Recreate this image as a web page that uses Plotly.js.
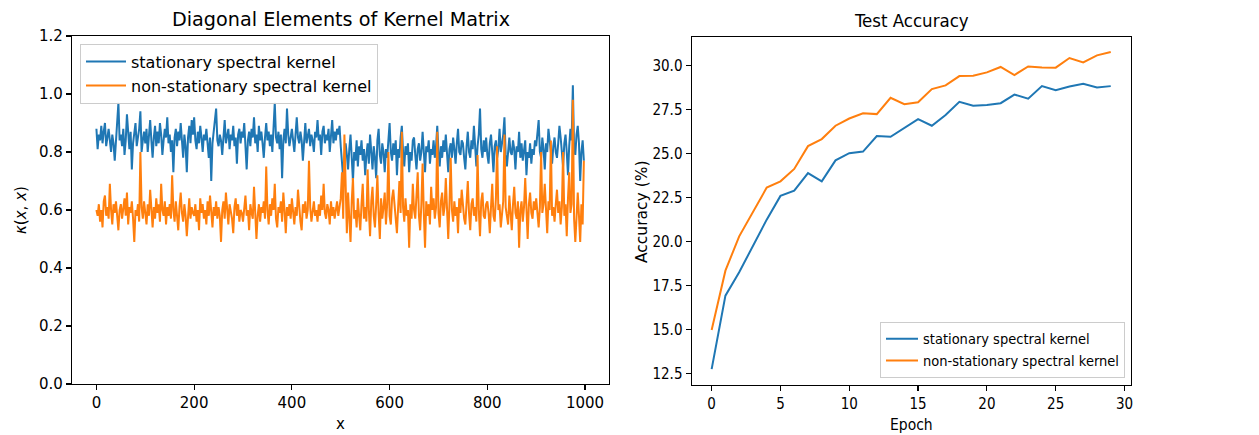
<!DOCTYPE html>
<html>
<head>
<meta charset="utf-8">
<script src="https://cdn.plot.ly/plotly-3.0.1.min.js"></script>
<style>html,body{margin:0;padding:0;background:#fff;}#chart{width:1259px;height:435px;}</style>
</head>
<body>
<div id="chart"></div>
<script>
// Left panel: diagonal elements, read every 2.5 units of x (0..997.5)
const kernelStep = 2.5;
const stationaryDiag = [
0.88,0.81,0.86,0.84,0.89,0.83,0.87,0.90,0.82,0.85,0.88,0.84,0.80,0.86,0.83,0.77,0.85,0.89,0.97,0.84,
0.86,0.82,0.88,0.79,0.84,0.93,0.85,0.81,0.87,0.74,0.83,0.86,0.90,0.82,0.85,0.88,0.94,0.80,0.84,0.87,
0.83,0.88,0.80,0.86,0.91,0.84,0.78,0.85,0.89,0.82,0.87,0.83,0.90,0.86,0.79,0.84,0.88,0.85,0.92,0.83,
0.86,0.80,0.84,0.73,0.85,0.88,0.82,0.87,0.84,0.90,0.83,0.78,0.86,0.82,0.73,0.85,0.89,0.83,0.91,0.86,
0.92,0.84,0.81,0.87,0.83,0.89,0.85,0.80,0.86,0.84,0.88,0.82,0.78,0.85,0.70,0.83,0.87,0.89,0.95,0.84,
0.82,0.86,0.84,0.79,0.87,0.91,0.83,0.85,0.88,0.81,0.86,0.84,0.89,0.82,0.85,0.76,0.86,0.88,0.83,0.87,
0.85,0.90,0.83,0.74,0.84,0.87,0.82,0.88,0.85,0.92,0.83,0.86,0.80,0.89,0.84,0.87,0.83,0.78,0.85,0.90,
0.84,0.87,0.82,0.86,0.80,0.88,0.97,0.85,0.83,0.87,0.81,0.86,0.71,0.84,0.88,0.83,0.95,0.86,0.82,0.85,
0.88,0.84,0.80,0.86,0.92,0.85,0.83,0.87,0.84,0.77,0.86,0.90,0.83,0.85,0.88,0.82,0.86,0.84,0.80,0.87,
0.85,0.91,0.84,0.86,0.79,0.87,0.89,0.83,0.86,0.84,0.88,0.80,0.85,0.91,0.83,0.87,0.84,0.88,0.86,0.89,
0.82,0.76,0.71,0.78,0.83,0.79,0.74,0.81,0.86,0.78,0.70,0.80,0.77,0.84,0.75,0.82,0.79,0.84,0.77,0.81,
0.72,0.79,0.83,0.76,0.86,0.80,0.74,0.82,0.78,0.71,0.84,0.88,0.79,0.76,0.83,0.80,0.73,0.81,0.78,0.84,
0.90,0.80,0.77,0.83,0.79,0.84,0.72,0.81,0.78,0.85,0.89,0.80,0.75,0.82,0.79,0.83,0.73,0.80,0.77,0.84,
0.85,0.79,0.74,0.81,0.83,0.77,0.80,0.87,0.78,0.73,0.82,0.80,0.84,0.76,0.81,0.79,0.84,0.78,0.82,0.89,
0.80,0.75,0.82,0.78,0.84,0.80,0.86,0.79,0.73,0.81,0.83,0.78,0.85,0.81,0.76,0.83,0.88,0.80,0.79,0.84,
0.83,0.78,0.74,0.82,0.87,0.80,0.78,0.84,0.81,0.89,0.79,0.75,0.82,0.86,0.95,0.81,0.78,0.84,0.80,0.85,
0.79,0.76,0.83,0.86,0.80,0.73,0.82,0.84,0.78,0.81,0.88,0.80,0.83,0.86,0.92,0.79,0.75,0.82,0.85,0.80,
0.79,0.84,0.81,0.74,0.82,0.80,0.87,0.78,0.83,0.77,0.81,0.84,0.72,0.80,0.78,0.83,0.76,0.81,0.79,0.84,
0.82,0.86,0.91,0.80,0.78,0.85,0.81,0.74,0.83,0.80,0.88,0.84,0.79,0.76,0.82,0.85,0.80,0.78,0.83,0.89,
0.85,0.79,0.75,0.83,0.86,0.80,0.72,0.82,0.88,0.84,1.03,0.81,0.79,0.86,0.89,0.83,0.70,0.80,0.84,0.77
];
const nonStationaryDiag = [
0.60,0.58,0.62,0.56,0.60,0.54,0.63,0.65,0.58,0.61,0.57,0.69,0.60,0.55,0.62,0.59,0.63,0.57,0.53,0.60,
0.62,0.57,0.60,0.64,0.58,0.66,0.55,0.61,0.59,0.63,0.57,0.49,0.60,0.58,0.62,0.56,0.80,0.61,0.57,0.63,
0.59,0.55,0.62,0.58,0.67,0.60,0.54,0.61,0.57,0.64,0.59,0.62,0.56,0.69,0.60,0.58,0.63,0.55,0.61,0.58,
0.62,0.57,0.72,0.60,0.56,0.63,0.58,0.53,0.61,0.66,0.59,0.56,0.62,0.58,0.51,0.60,0.64,0.57,0.61,0.59,
0.58,0.62,0.56,0.60,0.53,0.64,0.59,0.62,0.57,0.60,0.55,0.63,0.58,0.65,0.60,0.54,0.61,0.58,0.63,0.57,
0.61,0.58,0.49,0.60,0.63,0.57,0.66,0.59,0.55,0.62,0.60,0.57,0.52,0.61,0.64,0.58,0.62,0.56,0.60,0.59,
0.56,0.61,0.65,0.58,0.60,0.53,0.62,0.59,0.57,0.68,0.60,0.50,0.58,0.62,0.56,0.61,0.59,0.63,0.57,0.75,
0.60,0.55,0.62,0.58,0.64,0.60,0.69,0.57,0.54,0.61,0.59,0.63,0.56,0.66,0.60,0.52,0.61,0.58,0.62,0.57,
0.64,0.59,0.55,0.61,0.58,0.67,0.60,0.56,0.53,0.62,0.59,0.63,0.57,0.60,0.77,0.61,0.56,0.59,0.63,0.58,
0.60,0.56,0.62,0.58,0.65,0.60,0.69,0.59,0.57,0.62,0.60,0.55,0.63,0.58,0.61,0.57,0.60,0.63,0.58,0.61,
0.64,0.73,0.57,0.86,0.62,0.52,0.66,0.58,0.49,0.63,0.71,0.57,0.60,0.54,0.64,0.58,0.53,0.62,0.69,0.57,
0.61,0.56,0.74,0.60,0.51,0.63,0.68,0.58,0.54,0.62,0.72,0.59,0.50,0.64,0.57,0.61,0.66,0.55,0.62,0.80,
0.58,0.55,0.64,0.67,0.60,0.57,0.52,0.63,0.70,0.59,0.87,0.61,0.56,0.64,0.58,0.60,0.47,0.62,0.57,0.69,
0.60,0.57,0.66,0.73,0.58,0.53,0.62,0.76,0.59,0.47,0.63,0.58,0.62,0.55,0.68,0.60,0.64,0.57,0.61,0.87,
0.59,0.54,0.63,0.66,0.58,0.61,0.71,0.57,0.50,0.62,0.78,0.60,0.56,0.63,0.58,0.61,0.52,0.64,0.59,0.67,
0.60,0.57,0.55,0.63,0.70,0.59,0.53,0.62,0.64,0.58,0.61,0.56,0.79,0.60,0.51,0.63,0.66,0.58,0.57,0.62,
0.63,0.59,0.52,0.61,0.69,0.58,0.56,0.64,0.82,0.60,0.62,0.54,0.59,0.63,0.86,0.61,0.58,0.55,0.65,0.60,
0.53,0.62,0.68,0.59,0.57,0.63,0.47,0.60,0.63,0.56,0.61,0.71,0.58,0.50,0.62,0.66,0.59,0.57,0.63,0.60,
0.64,0.58,0.54,0.61,0.80,0.59,0.62,0.69,0.57,0.52,0.63,0.60,0.84,0.58,0.61,0.56,0.62,0.67,0.59,0.63,
0.55,0.61,0.80,0.58,0.62,0.51,0.64,0.73,0.59,0.62,0.98,0.57,0.49,0.61,0.66,0.58,0.49,0.62,0.55,0.77
];
// Right panel: test accuracy per epoch
const epochs = [0,1,2,3,4,5,6,7,8,9,10,11,12,13,14,15,16,17,18,19,20,21,22,23,24,25,26,27,28,29];
const accStationary = [12.75,16.93,18.26,19.77,21.25,22.6,22.9,23.9,23.43,24.62,25.03,25.12,26.0,25.96,26.48,26.96,26.59,27.2,27.95,27.73,27.77,27.87,28.36,28.13,28.84,28.61,28.82,28.97,28.76,28.84];
const accNonStationary = [14.98,18.35,20.3,21.7,23.07,23.43,24.13,25.43,25.83,26.59,27.0,27.3,27.25,28.18,27.81,27.92,28.67,28.88,29.41,29.43,29.62,29.93,29.47,29.96,29.9,29.89,30.44,30.19,30.59,30.78];
const seriesNames = ['stationary spectral kernel', 'non-stationary spectral kernel'];
const leftTitle = 'Diagonal Elements of Kernel Matrix';
const rightTitle = 'Test Accuracy';

const blue = '#1f77b4', orange = '#ff7f0e';
const kx = stationaryDiag.map((_, i) => i * kernelStep);
const F = 'DejaVu Sans, sans-serif';
const FC = 'DejaVu Sans Condensed, DejaVu Sans, sans-serif';

const traces = [
  {x: kx, y: stationaryDiag, type: 'scatter', mode: 'lines', name: seriesNames[0], line: {color: blue, width: 2}, xaxis: 'x', yaxis: 'y', legend: 'legend'},
  {x: kx, y: nonStationaryDiag, type: 'scatter', mode: 'lines', name: seriesNames[1], line: {color: orange, width: 2}, xaxis: 'x', yaxis: 'y', legend: 'legend'},
  {x: epochs, y: accStationary, type: 'scatter', mode: 'lines', name: seriesNames[0], line: {color: blue, width: 2}, xaxis: 'x2', yaxis: 'y2', legend: 'legend2'},
  {x: epochs, y: accNonStationary, type: 'scatter', mode: 'lines', name: seriesNames[1], line: {color: orange, width: 2}, xaxis: 'x2', yaxis: 'y2', legend: 'legend2'}
];

const W = 1259, H = 435;
const ax = (extra) => Object.assign({
  showline: true, mirror: true, linecolor: '#000', linewidth: 1.2,
  ticks: 'outside', ticklen: 5, tickwidth: 1.2, tickcolor: '#000',
  showgrid: false, zeroline: false, fixedrange: true
}, extra);
const yDom = [51 / H, 399 / H];

const layout = {
  width: W, height: H,
  margin: {l: 0, r: 0, t: 0, b: 0},
  paper_bgcolor: '#fff', plot_bgcolor: '#fff',
  font: {family: F, size: 15, color: '#000'},
  showlegend: true,
  xaxis: ax({domain: [72 / W, 609 / W], range: [-49.95, 1048.95], tickvals: [0, 200, 400, 600, 800, 1000], tickfont: {family: F, size: 15}, anchor: 'y'}),
  yaxis: ax({domain: yDom, range: [0, 1.2], tickvals: [0, 0.2, 0.4, 0.6, 0.8, 1.0, 1.2], tickformat: '.1f', tickfont: {family: F, size: 15}, anchor: 'x'}),
  xaxis2: ax({domain: [691.7 / W, 1130.7 / W], range: [-1.45, 30.45], tickvals: [0, 5, 10, 15, 20, 25, 30], tickfont: {family: FC, size: 15}, anchor: 'y2'}),
  yaxis2: ax({domain: [50 / H, 398.3 / H], range: [11.85, 31.65], tickvals: [12.5, 15, 17.5, 20, 22.5, 25, 27.5, 30], tickformat: '.1f', tickfont: {family: FC, size: 15}, anchor: 'x2'}),
  legend: {x: 80 / W, y: 1 - 43.7 / H, xanchor: 'left', yanchor: 'top', bgcolor: 'rgba(255,255,255,0.8)', bordercolor: '#cccccc', borderwidth: 1, font: {family: F, size: 16}, tracegroupgap: 0, itemwidth: 40},
  legend2: {x: 880 / W, y: 1 - 377.7 / H, xanchor: 'left', yanchor: 'bottom', bgcolor: 'rgba(255,255,255,0.8)', bordercolor: '#cccccc', borderwidth: 1, font: {family: FC, size: 14.5}, tracegroupgap: 0, itemwidth: 32},
  annotations: [
    {text: leftTitle, xref: 'paper', yref: 'paper', x: 340.5 / W, y: 1 - 20 / H, xanchor: 'center', yanchor: 'middle', showarrow: false, font: {family: F, size: 19.2}},
    {text: rightTitle, xref: 'paper', yref: 'paper', x: 911 / W, y: 1 - 21 / H, xanchor: 'center', yanchor: 'middle', showarrow: false, font: {family: FC, size: 18.5}},
    {text: 'x', xref: 'paper', yref: 'paper', x: 340.5 / W, y: 1 - 424 / H, xanchor: 'center', yanchor: 'middle', showarrow: false, font: {family: F, size: 15}},
    {text: 'Epoch', xref: 'paper', yref: 'paper', x: 911 / W, y: 1 - 425 / H, xanchor: 'center', yanchor: 'middle', showarrow: false, font: {family: FC, size: 15.5}},
    {text: '<i>κ</i>(<i>x</i>, <i>x</i>)', xref: 'paper', yref: 'paper', x: 21 / W, y: 1 - 210 / H, xanchor: 'center', yanchor: 'middle', textangle: -90, showarrow: false, font: {family: F, size: 15}},
    {text: 'Accuracy (%)', xref: 'paper', yref: 'paper', x: 642 / W, y: 1 - 212 / H, xanchor: 'center', yanchor: 'middle', textangle: -90, showarrow: false, font: {family: F, size: 15.5}}
  ]
};

Plotly.newPlot('chart', traces, layout, {displayModeBar: false, staticPlot: true});
</script>
</body>
</html>
